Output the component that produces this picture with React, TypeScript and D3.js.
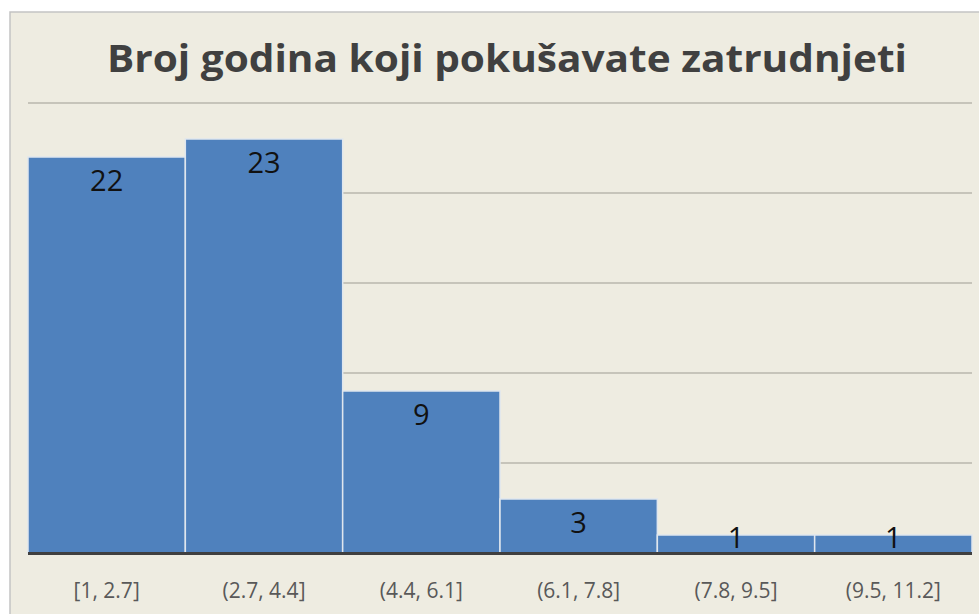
import React from "react";
import * as d3 from "d3";

const title = "Broj godina koji pokušavate zatrudnjeti";
const categories = ["[1, 2.7]", "(2.7, 4.4]", "(4.4, 6.1]", "(6.1, 7.8]", "(7.8, 9.5]", "(9.5, 11.2]"];
const counts = [22, 23, 9, 3, 1, 1];
const gridTicks = [5, 10, 15, 20, 25];
const yMax = 25;

const W = 979;
const H = 614;
const plot = { left: 28, right: 972, top: 103, bottom: 553 };

export default function App() {
  const x = d3.scaleBand<string>().domain(categories).range([plot.left, plot.right]).padding(0);
  const y = d3.scaleLinear().domain([0, yMax]).range([plot.bottom, plot.top]);

  return (
    <svg
      width={W}
      height={H}
      style={{ position: "absolute", left: 0, top: 0, display: "block" }}
    >
      <rect x={0} y={0} width={W} height={H} fill="#ffffff" />
      <rect x={10} y={12} width={W + 20} height={H + 20} fill="#eeece1" stroke="#c3c3c3" strokeWidth={1.5} />
      <text
        x={507}
        y={72}
        textAnchor="middle"
        fontFamily="'Open Sans', 'Noto Sans', sans-serif"
        fontWeight={700}
        fontSize={37}
        fill="#404040"
        textLength={800}
        lengthAdjust="spacingAndGlyphs"
      >
        {title}
      </text>
      {gridTicks.map((t) => (
        <line
          key={t}
          x1={plot.left}
          x2={plot.right}
          y1={y(t)}
          y2={y(t)}
          stroke="#c6c4ba"
          strokeWidth={2}
        />
      ))}
      {counts.map((v, i) => {
        const c = categories[i];
        const x0 = x(c)!;
        return (
          <rect
            key={c}
            x={x0}
            y={y(v)}
            width={x.bandwidth()}
            height={y(0) - y(v)}
            fill="#4f81bd"
            stroke="#dfe6ee"
            strokeWidth={1.5}
          />
        );
      })}
      <line
        x1={plot.left}
        x2={plot.right}
        y1={plot.bottom + 0.5}
        y2={plot.bottom + 0.5}
        stroke="#3f3f3f"
        strokeWidth={3}
      />
      {counts.map((v, i) => {
        const c = categories[i];
        const cx = x(c)! + x.bandwidth() / 2;
        const by = Math.min(y(v) + 34, y(0) - 5);
        return (
          <text
            key={"l" + c}
            x={cx}
            y={by}
            textAnchor="middle"
            fontFamily="'Open Sans', 'Noto Sans', sans-serif"
            fontSize={29}
            fill="#111111"
          >
            {v}
          </text>
        );
      })}
      {categories.map((c) => (
        <text
          key={"c" + c}
          x={x(c)! + x.bandwidth() / 2}
          y={598}
          textAnchor="middle"
          fontFamily="'Open Sans', 'Noto Sans', sans-serif"
          fontSize={21}
          fill="#595959"
        >
          {c}
        </text>
      ))}
    </svg>
  );
}
